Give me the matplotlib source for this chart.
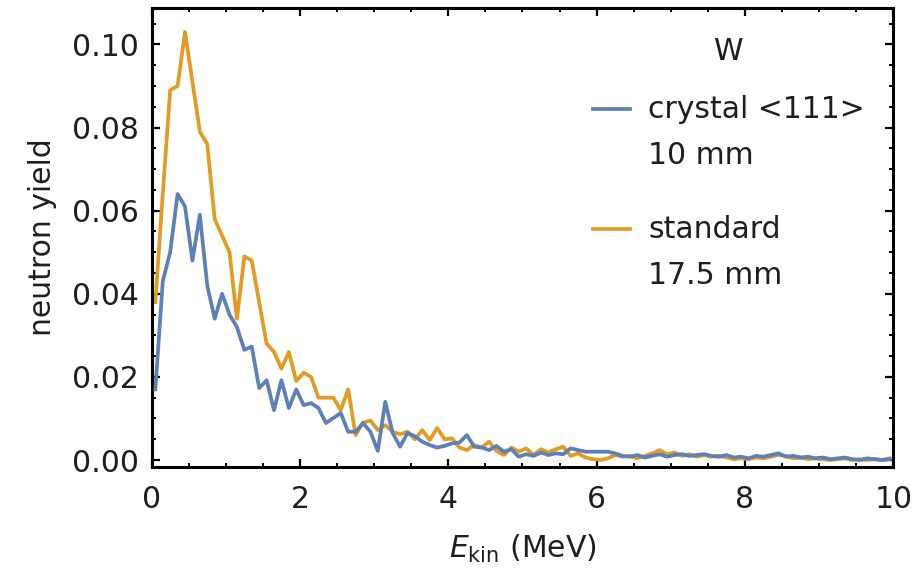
import numpy as np
import matplotlib
matplotlib.use("Agg")
import matplotlib.pyplot as plt
from matplotlib.ticker import MultipleLocator, FormatStrFormatter

# Kinetic energy bin centres (MeV), 0.1 MeV bins
energy = np.arange(100) * 0.1 + 0.05

crystal_111 = [
    0.017, 0.043, 0.050, 0.064, 0.061, 0.048, 0.059, 0.042, 0.034, 0.040,
    0.035, 0.032, 0.0265, 0.0273, 0.0173, 0.0192, 0.012, 0.0192, 0.0125, 0.0170,
    0.0132, 0.0137, 0.0125, 0.0089, 0.0101, 0.0113, 0.0068, 0.0068, 0.0089, 0.0068,
    0.0022, 0.0140, 0.0065, 0.0032, 0.0065, 0.0057, 0.0044, 0.0036, 0.0030, 0.0034,
    0.0040, 0.0042, 0.0060, 0.0032, 0.0030, 0.0024, 0.0034, 0.0020, 0.0026, 0.0008,
    0.0014, 0.0010, 0.0018, 0.0012, 0.0016, 0.0014, 0.0028, 0.0024, 0.0020, 0.0020,
    0.0020, 0.0020, 0.0016, 0.0010, 0.0008, 0.0012, 0.0006, 0.0010, 0.0014, 0.0008,
    0.0012, 0.0014, 0.0010, 0.0012, 0.0014, 0.0010, 0.0008, 0.0012, 0.0006, 0.0008,
    0.0004, 0.0010, 0.0008, 0.0012, 0.0016, 0.0008, 0.0010, 0.0006, 0.0008, 0.0004,
    0.0006, 0.0002, 0.0004, 0.0006, 0.0002, 0.0000, 0.0004, 0.0002, 0.0000, 0.0002,
]

standard = [
    0.038, 0.064, 0.089, 0.090, 0.103, 0.091, 0.079, 0.076, 0.058, 0.054,
    0.050, 0.034, 0.049, 0.048, 0.038, 0.028, 0.026, 0.022, 0.026, 0.019,
    0.021, 0.020, 0.015, 0.015, 0.015, 0.012, 0.017, 0.006, 0.009, 0.0095,
    0.0072, 0.0084, 0.0068, 0.0062, 0.0068, 0.0050, 0.0072, 0.0048, 0.0077, 0.0050,
    0.0052, 0.0030, 0.0024, 0.0036, 0.0030, 0.0044, 0.0022, 0.0012, 0.0030, 0.0020,
    0.0028, 0.0012, 0.0026, 0.0018, 0.0026, 0.0032, 0.0010, 0.0016, 0.0006, 0.0002,
    0.0000, 0.0004, 0.0012, 0.0008, 0.0010, 0.0004, 0.0010, 0.0016, 0.0024, 0.0014,
    0.0018, 0.0010, 0.0014, 0.0008, 0.0012, 0.0008, 0.0010, 0.0006, 0.0002, 0.0004,
    0.0002, 0.0006, 0.0004, 0.0008, 0.0012, 0.0010, 0.0004, 0.0006, 0.0002, 0.0004,
    0.0002, 0.0000, 0.0002, 0.0004, 0.0000, 0.0002, 0.0000, 0.0002, 0.0000, 0.0004,
]

labels = ["crystal <111>\n10 mm", "standard\n17.5 mm"]
legend_title = "W"
colors = ["#5E81B5", "#E19C24"]

FS = 21.5
TEXT = "#1e1e1e"
plt.rcParams["font.family"] = ["DejaVu Sans"]
plt.rcParams["mathtext.fontset"] = "dejavusans"
plt.rcParams["text.color"] = TEXT

fig = plt.figure(figsize=(9.19, 5.74), dpi=100)
ax = fig.add_axes([0.165, 0.187, 0.807, 0.7985])

ax.plot(energy, crystal_111, color=colors[0], lw=2.7, label=labels[0], zorder=3)
ax.plot(energy, standard, color=colors[1], lw=2.7, label=labels[1], zorder=2)

ax.set_xlim(0, 10)
ax.set_ylim(-0.0016, 0.1087)

ax.xaxis.set_major_locator(MultipleLocator(2))
ax.xaxis.set_minor_locator(MultipleLocator(0.5))
ax.yaxis.set_major_locator(MultipleLocator(0.02))
ax.yaxis.set_minor_locator(MultipleLocator(0.005))
ax.yaxis.set_major_formatter(FormatStrFormatter("%.2f"))
ax.xaxis.set_major_formatter(FormatStrFormatter("%d"))

ax.tick_params(which="both", direction="in", top=True, right=True,
               labelsize=FS, color="black", labelcolor=TEXT)
ax.tick_params(which="major", length=5.5, width=1.6)
ax.tick_params(which="minor", length=3.2, width=1.4)
ax.tick_params(axis="y", which="major", pad=9)
ax.tick_params(axis="x", which="major", pad=13)
for sp in ax.spines.values():
    sp.set_linewidth(2.2)

ax.set_xlabel(r"$E_{\mathrm{kin}}$ (MeV)", fontsize=FS, color=TEXT)
ax.set_ylabel("neutron yield", fontsize=FS, color=TEXT)
ax.xaxis.set_label_coords(0.5, -0.145)
ax.yaxis.set_label_coords(-0.128, 0.5)

leg = ax.legend(title=legend_title, fontsize=FS, title_fontsize=FS,
                frameon=False, loc="upper left",
                bbox_to_anchor=(0.645, 0.935), bbox_transform=fig.transFigure,
                borderpad=0, borderaxespad=0, handlelength=1.25,
                handletextpad=0.6, labelspacing=1.5)
# tighter gap between the title and the first entry
leg._legend_box.sep = 20.5
for t in leg.get_texts():
    t.set_linespacing(1.75)
# put each key next to the first line of its label
for ln in leg.get_lines():
    y = np.asarray(ln.get_ydata(), dtype=float)
    ln.set_ydata(y + 17.8)
    ln.set_linewidth(2.7)

fig.savefig("out.png", dpi=100)
